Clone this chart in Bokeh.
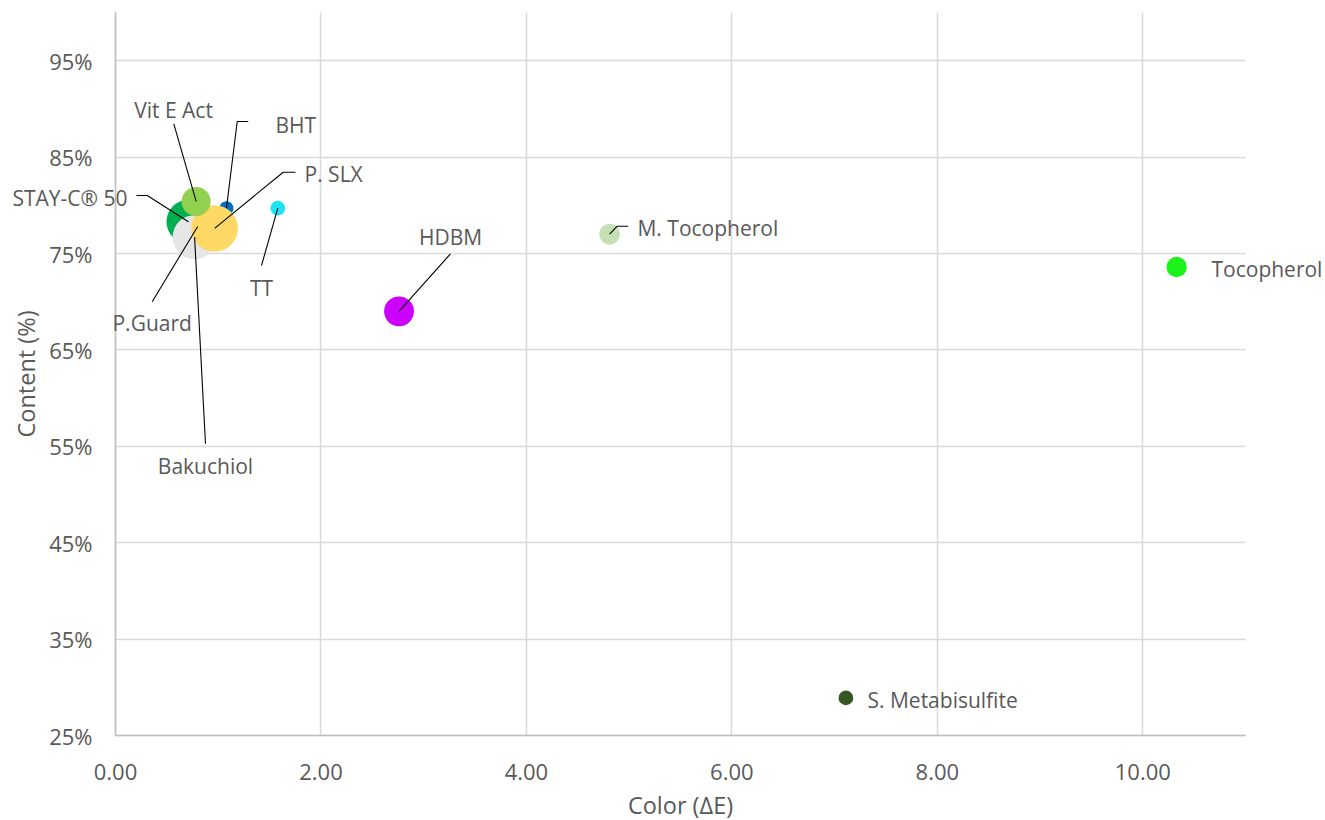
from math import sqrt
from bokeh.plotting import figure
from bokeh.models import Range1d, FixedTicker, NumeralTickFormatter, Label, Grid
from bokeh.embed import file_html
from bokeh.resources import INLINE

# ---------------- data ----------------
names = ["P.Guard", "STAY-C® 50", "Bakuchiol", "BHT", "P. SLX", "Vit E Act",
         "TT", "HDBM", "M. Tocopherol", "Tocopherol", "S. Metabisulfite"]
color_de = [0.80, 0.71, 0.77, 1.08, 0.965, 0.785, 1.58, 2.76, 4.81, 10.33, 7.11]
content = [0.778, 0.783, 0.767, 0.797, 0.776, 0.804, 0.797, 0.690, 0.770, 0.736, 0.289]
bubble = [0.05, 0.89, 0.89, 0.09, 1.00, 0.39, 0.10, 0.41, 0.20, 0.19, 0.10]
x_ticks = [0, 2, 4, 6, 8, 10]
y_ticks = [0.25, 0.35, 0.45, 0.55, 0.65, 0.75, 0.85, 0.95]

# ---------------- styles / layout ----------------
colors = ["#a5a5a5", "#00b050", "#e7e6e6", "#0070c0", "#ffd966", "#92d050",
          "#1de3f2", "#cc00ff", "#c5e0b4", "#1af21a", "#375623"]
label_x = [0.357, 0.117, 0.876, 1.557, 1.84, 0.565, 1.421, 3.261, 5.081, 10.669, 7.32]
label_y = [0.678, 0.808, 0.530, 0.8838, 0.832, 0.8985, 0.7147, 0.7666, 0.776, 0.7344, 0.2873]
label_align = ["center", "right", "center", "left", "left", "center", "center",
               "center", "left", "left", "left"]
leaders = {
    0: [(0.357, 0.700)],
    1: [(0.204, 0.8102), (0.309, 0.8102)],
    2: [(0.876, 0.5526)],
    3: [(1.292, 0.8869), (1.185, 0.8869)],
    4: [(1.752, 0.8343), (1.632, 0.8343)],
    5: [(0.5675, 0.8845)],
    6: [(1.421, 0.7375)],
    7: [(3.261, 0.7497)],
    8: [(4.991, 0.7783), (4.884, 0.7783)],
}

FONT = "Open Sans"
TXT = "#595959"
GRID = "#d9d9d9"
X0, X1, Y0, Y1 = 0, 11, 0.25, 1.0
W, H = 1325, 820
PAD_L, PAD_R, PAD_T, PAD_B = 115, 80, 12, 85   # plot-area position inside the canvas
kx = (W - PAD_L - PAD_R) / (X1 - X0)
ky = (H - PAD_T - PAD_B) / (Y1 - Y0)

p = figure(width=W, height=H, output_backend="svg", toolbar_location=None,
           x_range=Range1d(X0 - PAD_L / kx, X1 + PAD_R / kx),
           y_range=Range1d(Y0 - PAD_B / ky, Y1 + PAD_T / ky),
           min_border=0)
p.outline_line_color = None
p.background_fill_color = "white"
p.border_fill_color = "white"

# axes drawn at the plot-area edges (inside the canvas-wide frame, so labels are never clipped)
p.xaxis.fixed_location = Y0
p.yaxis.fixed_location = X0
p.xaxis.bounds = (X0, X1)
p.yaxis.bounds = (Y0, Y1)
p.xaxis.ticker = FixedTicker(ticks=x_ticks)
p.yaxis.ticker = FixedTicker(ticks=y_ticks)
p.xaxis.formatter = NumeralTickFormatter(format="0.00")
p.yaxis.formatter = NumeralTickFormatter(format="0%")

for ax in (p.xaxis[0], p.yaxis[0]):
    ax.axis_line_color = "#bfbfbf"
    ax.axis_line_width = 1.5
    ax.major_tick_line_color = None
    ax.minor_tick_line_color = None
    ax.major_tick_out = 0
    ax.major_tick_in = 0
    ax.major_label_text_font = FONT
    ax.major_label_text_font_size = "22px"
    ax.major_label_text_color = TXT
    ax.axis_label_text_font = FONT
    ax.axis_label_text_font_size = "23.5px"
    ax.axis_label_text_color = TXT
    ax.axis_label_text_font_style = "normal"

p.xaxis.axis_label = "Color (ΔE)"
p.yaxis.axis_label = "Content (%)"
p.yaxis.major_label_standoff = 23
p.xaxis.major_label_standoff = 28
p.yaxis.axis_label_standoff = 4
p.xaxis.axis_label_standoff = 6

# grid restricted to the plot area
p.xgrid.ticker = FixedTicker(ticks=x_ticks)
p.ygrid.ticker = FixedTicker(ticks=y_ticks)
if "cross_bounds" in Grid.properties():
    p.xgrid.cross_bounds = (Y0, Y1)
    p.ygrid.cross_bounds = (X0, X1)
    p.grid.grid_line_color = GRID
    p.grid.grid_line_width = 1.5
else:
    p.grid.visible = False
    p.segment(x0=x_ticks, y0=[Y0] * len(x_ticks), x1=x_ticks, y1=[Y1] * len(x_ticks),
              line_color=GRID, line_width=1.5)
    p.segment(x0=[X0] * len(y_ticks), y0=y_ticks, x1=[X1] * len(y_ticks), y1=y_ticks,
              line_color=GRID, line_width=1.5)

diam = [46.6 * sqrt(b) for b in bubble]
p.scatter(x=color_de, y=content, size=diam, fill_color=colors, line_color=None)

xs, ys = [], []
for i, pts in leaders.items():
    xs.append([pt[0] for pt in pts] + [color_de[i]])
    ys.append([pt[1] for pt in pts] + [content[i]])
p.multi_line(xs=xs, ys=ys, line_color="black", line_width=1.1)

for i, n in enumerate(names):
    p.add_layout(Label(x=label_x[i], y=label_y[i], text=n, text_align=label_align[i],
                       text_baseline="middle", text_font=FONT, text_font_size="21px",
                       text_color=TXT))

open("out.html", "w").write(file_html(p, INLINE))
